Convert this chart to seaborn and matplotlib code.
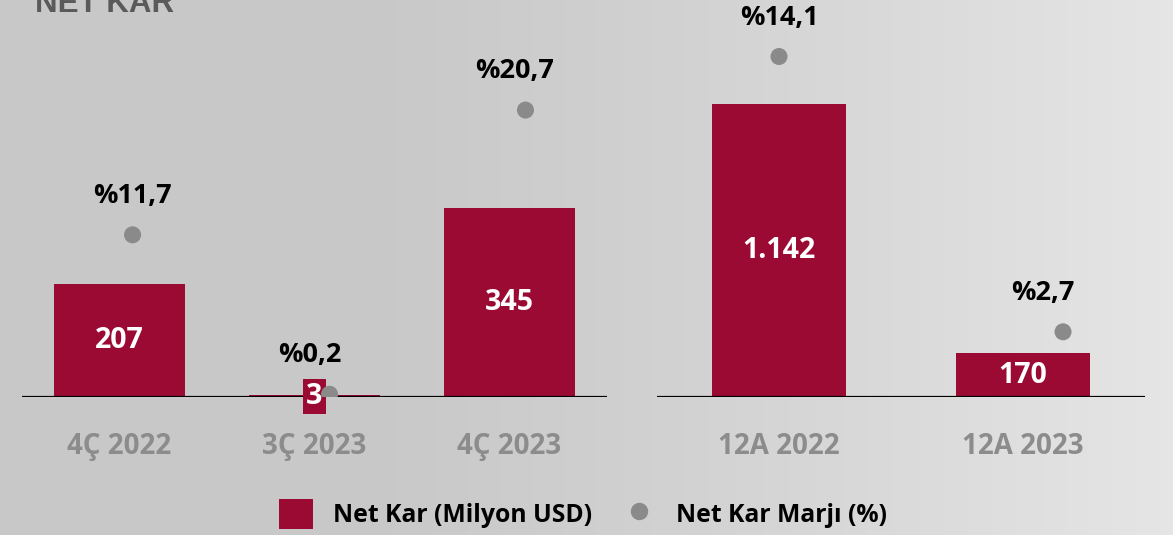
import seaborn as sns
import matplotlib.pyplot as plt
import numpy as np
from matplotlib.patches import Patch
from matplotlib.lines import Line2D

# quarterly and yearly net profit (million USD) and net margin (%)
q_labels = ['4Ç 2022', '3Ç 2023', '4Ç 2023']
q_profit = [207, 3, 345]
q_margin = [11.7, 0.2, 20.7]

y_labels = ['12A 2022', '12A 2023']
y_profit = [1142, 170]
y_margin = [14.1, 2.7]

RED = '#9b0a33'
DOT = '#8a8a8a'
TICK = '#8c8c8c'

sns.set_theme(style='white')
plt.rcParams['font.family'] = ['Open Sans', 'DejaVu Sans']
plt.rcParams['font.weight'] = 'bold'

fig = plt.figure(figsize=(11.73, 5.35), dpi=100)

# brushed-metal looking background
bg = fig.add_axes([0, 0, 1, 1], zorder=-10)
xs = np.linspace(0, 1, 600)
shade = 0.785 + 0.115 * np.clip((xs - 0.3) / 0.7, 0, 1) ** 1.2
grad = np.tile(shade, (50, 1))
bg.imshow(np.dstack([grad] * 3), aspect='auto', extent=(0, 1, 0, 1))
bg.axis('off')


def fmt_val(v):
    return f'{v:,}'.replace(',', '.')


def fmt_pct(v):
    return '%' + f'{v:.1f}'.replace('.', ',')


def panel(rect, cats, profit, margin, bar_w, ymax, mmax, dot_nudge, lab_nudge):
    ax = fig.add_axes(rect)
    ax.patch.set_alpha(0)
    sns.barplot(x=cats, y=profit, color=RED, saturation=1, width=bar_w,
                edgecolor='none', linewidth=0, ax=ax)
    ax.set_xlim(-0.5, len(cats) - 0.5)
    ax.set_ylim(0, ymax)
    ax.axhline(0, color='black', lw=1.6, zorder=2.5)
    labels = ax.bar_label(ax.containers[0], labels=[fmt_val(v) for v in profit],
                          label_type='center', color='white', fontsize=20.5,
                          fontweight='bold')
    for t in labels:
        t.set_bbox(dict(facecolor=RED, edgecolor='none', pad=2))
    ax.set_yticks([])
    ax.set_ylabel('')
    ax.tick_params(axis='x', length=0, pad=25, labelsize=20, labelcolor=TICK)
    for lab in ax.get_xticklabels():
        lab.set_fontweight('bold')
    sns.despine(ax=ax, left=True, bottom=True)

    tx = ax.twinx()
    tx.set_ylim(0, mmax)
    pos = np.arange(len(cats))
    sns.scatterplot(x=pos + np.array(dot_nudge), y=margin, color=DOT, s=150,
                    edgecolor='none', ax=tx, zorder=4)
    for i, m in enumerate(margin):
        tx.annotate(fmt_pct(m), (pos[i] + lab_nudge[i], m), xytext=(0, 28),
                    textcoords='offset points', ha='center', va='center',
                    fontsize=19.5, fontweight='bold', color='black')
    tx.set_yticks([])
    tx.set_ylabel('')
    for s in tx.spines.values():
        s.set_visible(False)
    return ax


panel([22 / 1173, 0.2579, 585 / 1173, 0.7421], q_labels, q_profit, q_margin,
      0.667, 726, 28.64, [0.067, 0.077, 0.082], [0.067, -0.026, 0.026])
panel([657 / 1173, 0.2579, 488 / 1173, 0.7421], y_labels, y_profit, y_margin,
      0.553, 1548, 16.44, [0.0, 0.164], [0.0, 0.082])

fig.text(35 / 1173, 1 - 12 / 535, 'NET KAR', family='Liberation Sans',
         fontsize=22.5, fontweight='bold', color='#5a5a5a', va='baseline')

handles = [Patch(facecolor=RED, edgecolor='none'),
           Line2D([], [], marker='o', ls='none', color=DOT, markersize=11.5)]
leg = fig.legend(handles, ['Net Kar (Milyon USD)', 'Net Kar Marjı (%)'], ncol=2,
                 loc='center', bbox_to_anchor=(583 / 1173, 1 - 514 / 535),
                 frameon=False, handlelength=1.4, handleheight=1.45,
                 handletextpad=0.8, columnspacing=1.2,
                 prop={'weight': 'bold', 'size': 17.8})
for t in leg.get_texts():
    t.set_color('black')

fig.savefig('out.png', dpi=100)
